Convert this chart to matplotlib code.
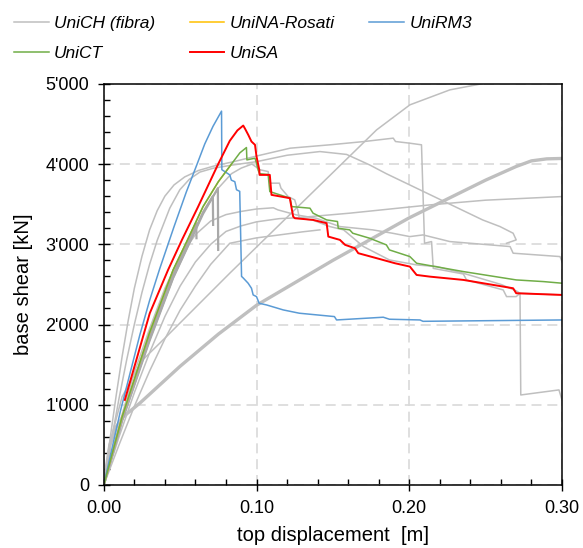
import matplotlib.pyplot as plt
from matplotlib.ticker import MultipleLocator, FuncFormatter

plt.rcParams['font.family'] = ['Liberation Sans', 'DejaVu Sans']

# UniCH (fibra) - several grey curves
ch_thick_x = [0, 0.004, 0.008, 0.0127, 0.0236, 0.05, 0.075, 0.10, 0.15, 0.20, 0.25, 0.27, 0.28, 0.29, 0.30]
ch_thick_y = [0, 500, 720, 850, 1020, 1480, 1880, 2240, 2800, 3330, 3800, 3970, 4040, 4065, 4070]

ch_a_x = [0, 0.005, 0.012, 0.025, 0.04, 0.0825, 0.1786, 0.2004, 0.2266, 0.244, 0.26]
ch_a_y = [0, 600, 1100, 1550, 1830, 2640, 4426, 4738, 4925, 4988, 5050]

ch_b_x = [0, 0.004, 0.008, 0.012, 0.016, 0.02, 0.025, 0.03, 0.035, 0.04, 0.046, 0.053, 0.062,
          0.072, 0.085, 0.10, 0.122, 0.148, 0.17, 0.1895, 0.191, 0.2004, 0.208, 0.210, 0.2146,
          0.2157, 0.2354, 0.2375, 0.2615, 0.2637, 0.270, 0.2725, 0.273, 0.298, 0.30]
ch_b_y = [0, 560, 1100, 1600, 2050, 2450, 2850, 3180, 3420, 3600, 3740, 3840, 3920,
          3975, 4030, 4100, 4198, 4240, 4280, 4323, 4281, 4260, 4240, 3013, 3034,
          2700, 2630, 2556, 2431, 2348, 2348, 2390, 1122, 1185, 1060]

ch_c_x = [0, 0.005, 0.01, 0.015, 0.02, 0.025, 0.03, 0.035, 0.0432, 0.0498, 0.056, 0.0629, 0.072,
          0.085, 0.10, 0.12, 0.1415, 0.159, 0.174, 0.185, 0.2025, 0.22, 0.248, 0.2594, 0.268,
          0.270, 0.2637]
ch_c_y = [0, 560, 1080, 1560, 2000, 2400, 2750, 3050, 3450, 3680, 3810, 3900, 3950,
          3990, 4030, 4110, 4156, 4120, 3990, 3880, 3720, 3560, 3304, 3221, 3138,
          3055, 3013]

ch_d_x = [0, 0.01, 0.02, 0.03, 0.04, 0.05, 0.06, 0.07, 0.08, 0.09, 0.10, 0.115, 0.126,
          0.161, 0.2135, 0.25, 0.30]
ch_d_y = [0, 600, 1150, 1650, 2100, 2480, 2780, 3000, 3160, 3230, 3280, 3320, 3330,
          3388, 3491, 3550, 3595]

ch_e_x = [0, 0.01, 0.02, 0.03, 0.04, 0.05, 0.06, 0.07, 0.08, 0.09, 0.10, 0.111, 0.114, 0.126,
          0.139, 0.1546, 0.176, 0.189, 0.2004, 0.209, 0.2266, 0.266, 0.268, 0.2987, 0.30]
ch_e_y = [0, 750, 1400, 1950, 2450, 2850, 3120, 3290, 3370, 3410, 3440, 3455, 3429, 3367,
          3325, 3221, 3180, 3138, 3096, 3117, 3034, 2972, 2889, 2847, 2785]

ch_f_x = [0, 0.01, 0.02, 0.03, 0.04, 0.05, 0.06, 0.07, 0.0825, 0.10, 0.115, 0.13, 0.1415]
ch_f_y = [0, 500, 980, 1420, 1820, 2180, 2480, 2750, 3013, 3080, 3117, 3155, 3180]

ch_g_x = [0, 0.012, 0.03, 0.0454, 0.0542, 0.065, 0.075, 0.0836, 0.09, 0.097, 0.10, 0.102,
          0.1076, 0.1087, 0.115, 0.116, 0.1207, 0.125, 0.127, 0.128, 0.137, 0.148, 0.157,
          0.17, 0.187, 0.2048, 0.218, 0.2354, 0.26, 0.27, 0.2725, 0.30]
ch_g_y = [0, 820, 1830, 2600, 2960, 3390, 3700, 3880, 3950, 4000, 3960, 3930,
          3907, 3762, 3762, 3700, 3595, 3554, 3429, 3325, 3300, 3221, 3180,
          2972, 2805, 2743, 2722, 2639, 2500, 2420, 2390, 2369]

# short runs ending with a sudden drop
ch_h_x = [0, 0.012, 0.03, 0.0454, 0.0542, 0.0605, 0.0607]
ch_h_y = [0, 830, 1850, 2620, 2990, 3260, 3076]
ch_i_x = [0, 0.012, 0.03, 0.0454, 0.0542, 0.065, 0.0714, 0.0716]
ch_i_y = [0, 810, 1820, 2590, 2950, 3400, 3600, 3242]
ch_j_x = [0, 0.012, 0.03, 0.0454, 0.0542, 0.065, 0.0747, 0.0749]
ch_j_y = [0, 800, 1800, 2580, 2940, 3380, 3700, 2930]

# UniNA-Rosati (hidden under UniCT)
na_x = [0, 0.012, 0.03, 0.0454, 0.0542, 0.065, 0.075, 0.0836]
na_y = [0, 850, 1900, 2681, 3030, 3470, 3780, 4000]

# UniRM3
rm3_x = [0, 0.011, 0.0236, 0.030, 0.0367, 0.046, 0.054, 0.0607, 0.0661, 0.0715, 0.0771, 0.0773,
         0.0825, 0.0835, 0.0858, 0.0869, 0.089, 0.0902, 0.0913, 0.0945, 0.0967, 0.0978, 0.100,
         0.1017, 0.1066, 0.1175, 0.128, 0.151, 0.1524, 0.183, 0.187, 0.207, 0.209, 0.30]
rm3_y = [0, 930, 1870, 2300, 2700, 3220, 3650, 3980, 4250, 4470, 4660, 3930,
         3865, 3800, 3780, 3680, 3660, 2600, 2580, 2515, 2452, 2369, 2348,
         2265, 2244, 2182, 2141, 2099, 2057, 2091, 2066, 2057, 2040, 2057]

# UniCT
ct_x = [0, 0.012, 0.03, 0.0454, 0.0542, 0.065, 0.075, 0.0836, 0.0891, 0.0934, 0.0937, 0.0956,
        0.099, 0.100, 0.101, 0.102, 0.1076, 0.1087, 0.122, 0.123, 0.135, 0.137, 0.1459, 0.153,
        0.1535, 0.161, 0.163, 0.174, 0.185, 0.187, 0.2004, 0.2048, 0.2354, 0.270, 0.288, 0.30]
ct_y = [0, 850, 1900, 2681, 3030, 3470, 3780, 4000, 4140, 4206, 4052, 4060,
        4073, 4011, 3928, 3880, 3870, 3657, 3575, 3470, 3450, 3388, 3304, 3284,
        3200, 3180, 3138, 3076, 2993, 2930, 2847, 2764, 2660, 2556, 2535, 2515]

# UniSA
sa_x = [0.0138, 0.0301, 0.0421, 0.0513, 0.0618, 0.0749, 0.0825, 0.0875, 0.0913, 0.0925, 0.0946,
        0.0967, 0.099, 0.100, 0.1018, 0.102, 0.1087, 0.1098, 0.1218, 0.124, 0.1251, 0.137,
        0.1459, 0.147, 0.1546, 0.158, 0.1644, 0.1666, 0.1786, 0.1906, 0.2004, 0.2048, 0.2135,
        0.2354, 0.268, 0.270, 0.30]
sa_y = [1060, 2140, 2681, 3060, 3470, 4000, 4290, 4420, 4480, 4440, 4364,
        4281, 4240, 4094, 3928, 3865, 3865, 3616, 3575, 3345, 3325, 3304,
        3263, 3096, 3055, 2993, 2951, 2889, 2827, 2764, 2722, 2618, 2597,
        2556, 2452, 2390, 2369]

grey = '#bfbfbf'
fig = plt.figure(figsize=(5.83, 5.48), dpi=100)
ax = fig.add_axes([0.178, 0.115, 0.786, 0.732])

thin = [(ch_a_x, ch_a_y), (ch_b_x, ch_b_y), (ch_c_x, ch_c_y), (ch_d_x, ch_d_y),
        (ch_e_x, ch_e_y), (ch_f_x, ch_f_y), (ch_g_x, ch_g_y)]
ax.plot(ch_thick_x, ch_thick_y, color=grey, lw=2.4)
for k, (xs, ys) in enumerate(thin):
    ax.plot(xs, ys, color=grey, lw=1.1, label='UniCH (fibra)' if k == 0 else None)
for xs, ys in [(ch_h_x, ch_h_y), (ch_i_x, ch_i_y), (ch_j_x, ch_j_y)]:
    ax.plot(xs, ys, color='#a9a9a9', lw=1.6)

ax.plot(na_x, na_y, color='#ffc000', lw=1.1, label='UniNA-Rosati')
ax.plot(rm3_x, rm3_y, color='#5b9bd5', lw=1.1, label='UniRM3')
ax.plot(ct_x, ct_y, color='#70ad47', lw=1.1, label='UniCT')
ax.plot(sa_x, sa_y, color='#ff0000', lw=1.4, label='UniSA')

ax.set_xlim(0, 0.30)
ax.set_ylim(0, 5000)
ax.xaxis.set_major_locator(MultipleLocator(0.10))
ax.xaxis.set_minor_locator(MultipleLocator(0.02))
ax.yaxis.set_major_locator(MultipleLocator(1000))
ax.yaxis.set_minor_locator(MultipleLocator(200))
ax.xaxis.set_major_formatter(FuncFormatter(lambda v, p: f'{v:.2f}'))
ax.yaxis.set_major_formatter(FuncFormatter(lambda v, p: f'{int(round(v)):,}'.replace(',', "'")))
ax.tick_params(which='major', direction='inout', length=9, width=1, labelsize=13, pad=6)
ax.tick_params(which='minor', direction='in', length=4.5, width=1)
ax.grid(True, which='major', color='#d9d9d9', ls=(0, (6, 3.5)), lw=1.2)
ax.set_axisbelow(True)
for s in ax.spines.values():
    s.set_linewidth(1.1)
    s.set_color('black')

ax.set_xlabel('top displacement  [m]', fontsize=14.5, labelpad=7)
ax.set_ylabel('base shear [kN]', fontsize=14.5, labelpad=9)

h, l = ax.get_legend_handles_labels()
order = [0, 3, 1, 4, 2]
fig.legend([h[i] for i in order], [l[i] for i in order], ncol=3, loc='upper left',
           bbox_to_anchor=(0.012, 0.984), frameon=False, prop={'style': 'italic', 'size': 12.5},
           handlelength=2.0, handletextpad=0.3, columnspacing=2.0, labelspacing=0.85,
           borderaxespad=0)

fig.savefig('out.png', dpi=100)
